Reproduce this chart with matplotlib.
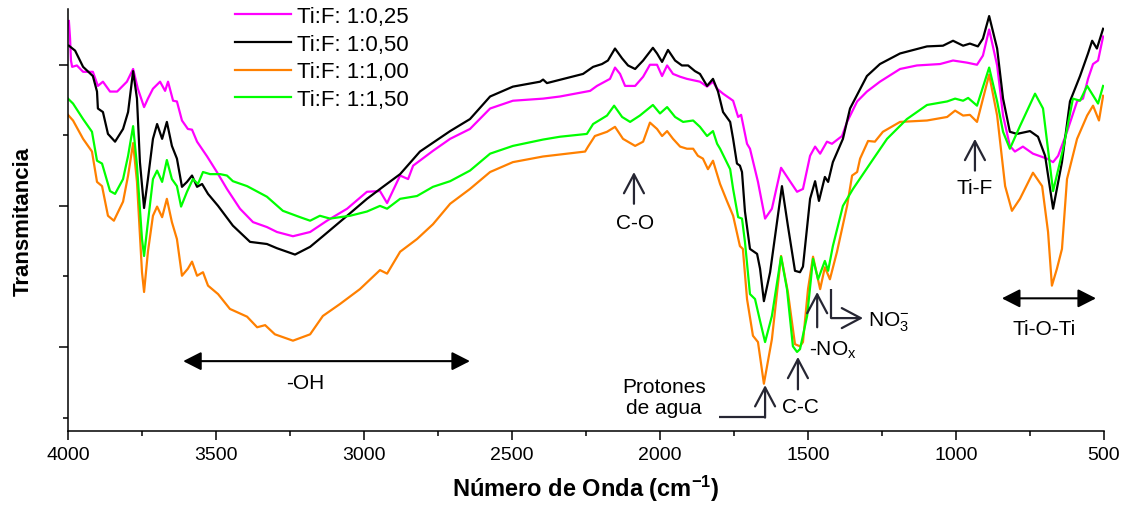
import matplotlib
matplotlib.use("Agg")
import matplotlib.pyplot as plt
from matplotlib.ticker import MultipleLocator

plt.rcParams['font.family'] = ['Liberation Sans', 'DejaVu Sans']
plt.rcParams['mathtext.fontset'] = 'custom'
plt.rcParams['mathtext.rm'] = 'Liberation Sans'
plt.rcParams['mathtext.it'] = 'Liberation Sans:italic'
plt.rcParams['mathtext.bf'] = 'Liberation Sans:bold'

# ---------------- data (wavenumber cm-1, transmittance a.u.) ----------------
labels = ["Ti:F: 1:0,25", "Ti:F: 1:0,50", "Ti:F: 1:1,00", "Ti:F: 1:1,50"]
colors = ["#FF00FF", "#000000", "#FF8000", "#00FF00"]

wn_025 = [3997, 3993, 3990, 3986, 3970, 3949, 3916, 3899, 3882, 3858, 3834, 3801, 3780, 3764, 3743, 3730,
          3713, 3689, 3672, 3662, 3645, 3632, 3615, 3595, 3581, 3564, 3530, 3497, 3463, 3419, 3375, 3328,
          3294, 3240, 3182, 3125, 3057, 2990, 2946, 2922, 2878, 2851, 2834, 2767, 2709, 2642, 2574, 2497,
          2395, 2338, 2236, 2213, 2169, 2152, 2135, 2118, 2084, 2057, 2034, 2010, 1993, 1976, 1956, 1932,
          1909, 1865, 1841, 1821, 1807, 1787, 1763, 1753, 1736, 1726, 1706, 1696, 1669, 1645, 1622, 1591,
          1561, 1537, 1517, 1493, 1476, 1459, 1436, 1419, 1385, 1368, 1334, 1301, 1257, 1189, 1132, 1054,
          1010, 963, 929, 909, 888, 861, 841, 818, 801, 774, 740, 693, 672, 655, 625, 591, 571, 554, 537,
          520, 503]
t_025 = [106.2, 103.7, 100.6, 99.7, 99.9, 99.0, 99.0, 97.0, 97.6, 96.2, 96.2, 97.6, 99.4, 96.6, 94.0, 95.2,
         96.6, 97.6, 96.3, 97.6, 94.9, 94.8, 92.1, 90.9, 90.8, 89.1, 87.0, 84.8, 82.4, 79.6, 77.7, 77.0,
         76.3, 75.7, 76.3, 77.9, 79.6, 82.0, 82.1, 80.4, 84.3, 83.8, 85.7, 87.8, 89.5, 90.9, 93.8, 94.9,
         95.2, 95.5, 96.3, 97.0, 98.0, 99.6, 98.7, 97.0, 97.0, 98.3, 100.0, 100.0, 98.4, 99.9, 98.7, 98.3,
         98.0, 97.6, 96.9, 97.6, 96.6, 95.9, 95.2, 94.9, 92.6, 92.9, 88.8, 88.1, 83.4, 78.2, 79.6, 85.4,
         83.5, 82.0, 82.4, 87.1, 88.4, 87.4, 89.1, 88.8, 89.9, 91.9, 94.8, 96.2, 97.6, 99.4, 99.9, 100.1,
         100.6, 100.3, 100.0, 101.3, 105.0, 99.9, 92.8, 88.5, 87.7, 88.4, 87.4, 86.7, 86.2, 87.1, 90.5, 94.8,
         95.2, 98.0, 100.1, 100.6, 104.0]

wn_050 = [3997, 3976, 3949, 3916, 3902, 3899, 3882, 3865, 3841, 3814, 3797, 3780, 3767, 3757, 3743, 3730,
          3713, 3699, 3682, 3666, 3649, 3632, 3615, 3598, 3581, 3564, 3547, 3527, 3493, 3443, 3385, 3328,
          3294, 3233, 3182, 3139, 3057, 2990, 2936, 2878, 2811, 2709, 2642, 2574, 2497, 2405, 2395, 2382,
          2260, 2226, 2196, 2176, 2152, 2128, 2108, 2084, 2057, 2024, 2010, 1993, 1973, 1949, 1926, 1905,
          1882, 1865, 1841, 1821, 1804, 1787, 1763, 1753, 1740, 1730, 1723, 1713, 1696, 1672, 1662, 1649,
          1628, 1608, 1588, 1568, 1544, 1527, 1517, 1493, 1476, 1463, 1443, 1432, 1416, 1382, 1358, 1301,
          1257, 1189, 1098, 1044, 1010, 976, 953, 926, 909, 888, 861, 841, 818, 794, 750, 723, 699, 672,
          642, 615, 581, 554, 540, 524, 503]
t_050 = [102.7, 102.0, 99.7, 98.4, 96.2, 93.8, 93.3, 90.2, 89.1, 90.9, 93.3, 99.1, 95.2, 86.2, 79.7, 83.8,
         89.5, 91.6, 89.5, 91.9, 88.5, 86.7, 82.7, 83.4, 84.3, 82.7, 83.1, 81.7, 80.0, 77.2, 74.9, 74.6,
         74.0, 73.1, 74.2, 75.7, 78.6, 81.0, 82.7, 84.5, 87.7, 90.6, 92.3, 95.5, 96.9, 97.6, 97.9, 97.4,
         98.7, 99.7, 100.1, 100.6, 102.3, 100.9, 99.9, 99.4, 100.6, 102.4, 101.6, 100.4, 102.1, 100.6, 99.9, 99.9,
         99.1, 98.7, 97.0, 98.0, 96.2, 93.3, 91.9, 89.5, 86.0, 85.7, 84.8, 79.2, 73.9, 73.2, 71.1, 66.5,
         70.6, 76.7, 82.8, 77.2, 70.8, 70.6, 71.4, 81.0, 83.5, 80.7, 84.1, 83.4, 86.2, 89.5, 93.8, 98.4,
         100.1, 101.6, 102.6, 102.7, 103.4, 102.7, 103.0, 102.6, 103.7, 106.9, 102.3, 95.2, 90.5, 90.2, 90.6, 89.8, 87.1, 79.6,
         86.2, 94.8, 98.4, 101.6, 103.4, 102.3, 105.1]

wn_100 = [4000, 3983, 3949, 3919, 3902, 3885, 3865, 3845, 3814, 3797, 3780, 3767, 3750, 3743, 3730, 3713,
          3699, 3682, 3666, 3649, 3632, 3615, 3595, 3581, 3564, 3544, 3527, 3493, 3453, 3395, 3361, 3334,
          3301, 3240, 3182, 3139, 3081, 3014, 2946, 2922, 2878, 2821, 2767, 2709, 2642, 2574, 2497, 2395,
          2253, 2243, 2220, 2179, 2152, 2125, 2084, 2057, 2034, 2010, 1993, 1976, 1956, 1932, 1909, 1888,
          1872, 1855, 1838, 1821, 1797, 1774, 1753, 1730, 1720, 1706, 1686, 1669, 1649, 1622, 1591, 1568,
          1544, 1527, 1517, 1500, 1483, 1459, 1443, 1426, 1402, 1368, 1351, 1334, 1324, 1297, 1274, 1247,
          1189, 1098, 1030, 1003, 976, 953, 929, 888, 861, 834, 811, 784, 740, 709, 689, 676, 659, 642,
          625, 591, 557, 537, 517, 503]
t_100 = [92.9, 92.1, 89.5, 87.7, 83.4, 82.8, 78.6, 77.9, 80.6, 84.3, 88.9, 83.4, 70.6, 67.8, 73.5, 78.6,
         79.9, 78.4, 81.0, 77.7, 75.3, 70.1, 71.1, 72.1, 70.1, 70.6, 68.7, 67.5, 65.4, 64.3, 62.8, 63.1,
         61.8, 60.9, 61.8, 64.4, 66.1, 68.2, 70.9, 70.4, 73.5, 75.3, 77.4, 80.3, 82.4, 84.8, 86.2, 87.0,
         87.7, 88.4, 89.9, 90.5, 91.2, 89.5, 88.5, 89.1, 91.8, 90.9, 89.9, 90.6, 89.5, 88.4, 88.1, 88.1,
         87.1, 86.7, 85.2, 86.4, 83.1, 80.7, 78.6, 74.3, 73.9, 66.8, 61.6, 60.7, 54.8, 61.1, 72.9, 67.8,
         60.4, 60.1, 60.7, 68.2, 72.8, 68.2, 71.3, 69.6, 73.5, 80.0, 84.3, 84.8, 86.7, 89.2, 89.1, 90.5,
         91.9, 92.1, 92.6, 93.5, 92.8, 92.9, 91.9, 98.6, 92.8, 82.8, 79.3, 81.0, 84.7, 82.8, 76.3, 68.7, 71.1, 73.9,
         83.8, 89.5, 92.8, 94.2, 92.1, 95.6]

wn_150 = [4000, 3983, 3949, 3919, 3902, 3885, 3858, 3841, 3814, 3797, 3780, 3767, 3750, 3743, 3730, 3713,
          3699, 3682, 3666, 3649, 3632, 3618, 3598, 3578, 3561, 3544, 3520, 3486, 3463, 3443, 3395, 3328,
          3274, 3216, 3182, 3149, 3115, 3047, 2990, 2946, 2922, 2878, 2821, 2767, 2709, 2642, 2574, 2497,
          2395, 2338, 2247, 2226, 2179, 2155, 2128, 2101, 2068, 2024, 2000, 1976, 1949, 1922, 1888, 1865,
          1841, 1821, 1807, 1797, 1763, 1753, 1736, 1723, 1713, 1696, 1679, 1662, 1645, 1622, 1591, 1571,
          1551, 1537, 1527, 1503, 1483, 1466, 1443, 1432, 1416, 1382, 1348, 1290, 1233, 1166, 1098, 1030,
          1003, 976, 959, 929, 888, 861, 841, 818, 784, 733, 706, 672, 638, 605, 581, 557, 520, 503]
t_150 = [95.2, 94.5, 92.3, 90.5, 86.4, 86.0, 82.1, 81.7, 83.8, 87.1, 91.3, 85.7, 75.3, 72.9, 77.7, 83.8,
         85.0, 83.4, 86.5, 83.8, 82.8, 79.9, 82.0, 83.8, 83.1, 84.8, 84.5, 84.5, 84.3, 83.5, 82.8, 81.3,
         79.3, 78.4, 77.9, 78.6, 78.2, 78.6, 79.2, 80.0, 79.6, 81.0, 81.4, 82.7, 83.5, 85.0, 87.4, 88.5,
         89.4, 89.8, 90.2, 91.6, 92.8, 94.2, 92.6, 91.9, 92.8, 94.3, 93.1, 94.0, 92.6, 91.9, 92.1, 91.2,
         89.9, 90.6, 88.8, 88.1, 85.2, 82.4, 78.4, 78.2, 74.9, 67.5, 66.8, 63.7, 60.7, 64.4, 72.8, 68.2,
         60.1, 59.3, 59.7, 64.4, 72.5, 69.6, 72.2, 70.8, 74.3, 80.0, 82.4, 86.0, 89.5, 92.3, 94.3, 94.8,
         95.2, 94.9, 95.3, 94.2, 99.6, 94.8, 90.5, 88.1, 91.3, 95.9, 93.8, 82.1, 88.1, 95.2, 94.9, 97.0, 94.5, 97.0]

series_wn = [wn_025, wn_050, wn_100, wn_150]
series_t = [t_025, t_050, t_100, t_150]

# ---------------- figure ----------------
fig = plt.figure(figsize=(11.29, 5.06), dpi=100)
ax = fig.add_axes([68 / 1129, 74 / 506, 1036 / 1129, 422 / 506])

for wn, t, c, lab in zip(series_wn, series_t, colors, labels):
    ax.plot(wn, t, color=c, lw=1.6, label=lab, solid_joinstyle='round')

ax.set_xlim(4000, 500)
ax.set_ylim(48.1, 107.9)

for s in ['top', 'right']:
    ax.spines[s].set_visible(False)
for s in ['left', 'bottom']:
    ax.spines[s].set_linewidth(1.1)

ax.xaxis.set_major_locator(MultipleLocator(500))
ax.xaxis.set_minor_locator(MultipleLocator(250))
ax.yaxis.set_major_locator(MultipleLocator(20))
ax.yaxis.set_minor_locator(MultipleLocator(10))
ax.set_yticklabels([])
ax.tick_params(axis='both', which='major', direction='out', length=6.5, width=1.1, labelsize=14, pad=4)
ax.tick_params(axis='both', which='minor', direction='out', length=3.6, width=1.1)

ax.set_xlabel(r'Número de Onda (cm$\mathbf{^{-1}}$)', fontsize=17, fontweight='bold', labelpad=7)
ax.set_ylabel('Transmitancia', fontsize=16, fontweight='bold', labelpad=14)

leg = ax.legend(loc='upper left', bbox_to_anchor=(235 / 1129, 1 - 7 / 506), bbox_transform=fig.transFigure,
                frameon=False, fontsize=16, handlelength=2.5, handletextpad=0.3, labelspacing=0.3,
                borderpad=0, borderaxespad=0)

# ---------------- annotations ----------------
acol = '#262633'
fs = 15
chev = dict(arrowstyle='->, head_length=0.68, head_width=0.36', color=acol, lw=1.6, mutation_scale=20,
            shrinkA=0, shrinkB=0)
dbl = dict(arrowstyle='<|-|>, head_length=0.55, head_width=0.28', color='black', lw=1.5, mutation_scale=20,
           shrinkA=0, shrinkB=0)

# -OH
ax.annotate('', xy=(3611, 58.0), xytext=(2642, 58.0), arrowprops=dbl)
ax.text(3199, 55.0, '-OH', fontsize=fs, ha='center', va='center')
# C-O
ax.annotate('', xy=(2088, 84.8), xytext=(2088, 80.3), arrowprops=chev)
ax.text(2085, 77.6, 'C-O', fontsize=fs, ha='center', va='center')
# Ti-F
ax.annotate('', xy=(936, 89.5), xytext=(936, 85.0), arrowprops=chev)
ax.text(938, 82.6, 'Ti-F', fontsize=fs, ha='center', va='center')
# Ti-O-Ti
ax.annotate('', xy=(845, 66.9), xytext=(527, 66.9), arrowprops=dbl)
ax.text(703, 62.6, 'Ti-O-Ti', fontsize=fs, ha='center', va='center')
# Protones de agua
ax.plot([1801, 1645], [50.1, 50.1], color=acol, lw=1.6, solid_capstyle='butt')
ax.annotate('', xy=(1645, 54.6), xytext=(1645, 50.0), arrowprops=chev)
ax.text(1986, 52.9, 'Protones\nde agua', fontsize=fs, ha='center', va='center', linespacing=1.1)
# C-C
ax.annotate('', xy=(1534, 58.6), xytext=(1534, 54.0), arrowprops=chev)
ax.text(1527, 51.6, 'C-C', fontsize=fs, ha='center', va='center')
# -NOx
ax.annotate('', xy=(1469, 67.8), xytext=(1469, 62.8), arrowprops=chev)
ax.text(1416, 59.7, r'-NO$_\mathregular{x}$', fontsize=fs, ha='center', va='center')
# NO3-
ax.plot([1422, 1422], [68.2, 64.1], color=acol, lw=1.6, solid_capstyle='butt')
ax.annotate('', xy=(1314, 64.1), xytext=(1422, 64.1), arrowprops=chev)
ax.text(1297, 63.7, r'NO$_\mathregular{3}^\mathregular{-}$', fontsize=fs, ha='left', va='center')

fig.savefig('out.png', dpi=100)
